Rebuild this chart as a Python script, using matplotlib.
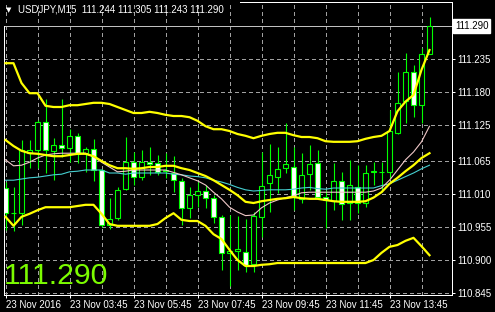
import matplotlib
matplotlib.use('Agg')
import matplotlib.pyplot as plt
from matplotlib.patches import Rectangle
from matplotlib.transforms import blended_transform_factory

# ---------------- data ----------------
title_text = "USDJPY,M15  111.244 111.305 111.243 111.290"
last_price = 111.290
last_price_label = "111.290"

opens = [111.020, 110.978, 110.978, 111.078, 111.083, 111.130, 111.082, 111.092, 111.087, 111.107,
         111.079, 111.085, 111.050, 110.958, 110.970, 111.018, 111.063, 111.038, 111.063, 111.062,
         111.050, 111.045, 111.032, 110.986, 111.008, 111.015, 111.003, 110.972, 110.912, 110.915,
         110.913, 110.893, 110.972, 111.028, 111.039, 111.053, 111.055, 111.001, 111.043, 111.061,
         111.005, 110.999, 111.031, 110.995, 111.022, 110.995, 111.046, 111.047, 111.047, 111.112,
         111.165, 111.213, 111.158, 111.244]
highs = [111.030, 111.022, 111.100, 111.100, 111.133, 111.168, 111.103, 111.168, 111.118, 111.112,
         111.088, 111.102, 111.052, 111.003, 111.022, 111.105, 111.080, 111.083, 111.088, 111.075,
         111.079, 111.073, 111.036, 111.022, 111.030, 111.025, 111.008, 110.975, 110.975, 110.973,
         110.968, 110.980, 111.080, 111.093, 111.088, 111.128, 111.088, 111.078, 111.092, 111.083,
         111.017, 111.061, 111.047, 111.067, 111.058, 111.058, 111.064, 111.064, 111.150, 111.213,
         111.245, 111.225, 111.253, 111.305]
lows = [110.950, 110.948, 110.958, 111.053, 111.053, 111.045, 111.033, 111.072, 111.063, 111.062,
        111.047, 111.032, 110.955, 110.952, 110.967, 111.017, 111.025, 111.033, 111.042, 111.042,
        111.036, 111.014, 110.958, 110.970, 110.989, 110.986, 110.961, 110.883, 110.857, 110.883,
        110.880, 110.880, 110.939, 110.980, 111.012, 111.045, 110.983, 110.995, 111.017, 111.003,
        110.953, 110.983, 110.967, 110.967, 110.978, 110.989, 111.025, 111.014, 111.037, 111.110,
        111.128, 111.139, 111.128, 111.243]
closes = [110.978, 110.979, 111.083, 111.083, 111.130, 111.083, 111.092, 111.086, 111.107, 111.077,
          111.085, 111.050, 110.958, 110.968, 111.017, 111.063, 111.039, 111.063, 111.060, 111.047,
          111.048, 111.033, 110.986, 111.008, 111.015, 111.003, 110.972, 110.912, 110.915, 110.918,
          110.892, 110.973, 111.024, 111.042, 111.051, 111.060, 111.005, 111.041, 111.060, 111.005,
          111.000, 111.031, 110.994, 111.025, 110.995, 111.045, 111.048, 111.047, 111.115, 111.162,
          111.213, 111.158, 111.244, 111.290]

bb_upper = [111.228, 111.228, 111.195, 111.178, 111.178, 111.157, 111.155, 111.155, 111.158, 111.158,
            111.160, 111.162, 111.162, 111.160, 111.155, 111.150, 111.145, 111.145, 111.147, 111.145,
            111.142, 111.140, 111.140, 111.138, 111.132, 111.123, 111.118, 111.118, 111.115, 111.110,
            111.107, 111.103, 111.107, 111.110, 111.112, 111.112, 111.108, 111.105, 111.105, 111.103,
            111.098, 111.097, 111.097, 111.097, 111.098, 111.102, 111.105, 111.107, 111.115, 111.148,
            111.164, 111.175, 111.217, 111.250]
bb_middle = [111.100, 111.090, 111.082, 111.078, 111.077, 111.075, 111.073, 111.073, 111.075, 111.077,
             111.077, 111.073, 111.065, 111.058, 111.053, 111.053, 111.052, 111.053, 111.055, 111.055,
             111.057, 111.057, 111.053, 111.050, 111.045, 111.040, 111.033, 111.025, 111.017, 111.008,
             110.997, 110.995, 110.998, 111.000, 111.002, 111.003, 111.005, 111.003, 111.002, 111.002,
             111.000, 110.998, 110.997, 110.997, 110.997, 110.998, 111.004, 111.013, 111.027, 111.037,
             111.048, 111.058, 111.070, 111.078]
bb_lower = [110.972, 110.957, 110.972, 110.977, 110.983, 110.988, 110.988, 110.988, 110.988, 110.990,
            110.992, 110.992, 110.977, 110.960, 110.957, 110.957, 110.957, 110.957, 110.957, 110.960,
            110.970, 110.978, 110.967, 110.965, 110.965, 110.957, 110.943, 110.935, 110.917, 110.900,
            110.890, 110.890, 110.892, 110.893, 110.895, 110.895, 110.895, 110.895, 110.895, 110.895,
            110.895, 110.895, 110.895, 110.895, 110.895, 110.895, 110.900, 110.912, 110.922, 110.925,
            110.932, 110.937, 110.923, 110.908]
ma_fast = [111.067, 111.057, 111.058, 111.063, 111.070, 111.075, 111.077, 111.078, 111.078, 111.078,
           111.078, 111.072, 111.063, 111.055, 111.047, 111.048, 111.050, 111.050, 111.050, 111.050,
           111.050, 111.046, 111.042, 111.037, 111.032, 111.025, 111.013, 111.002, 110.988, 110.980,
           110.974, 110.975, 110.987, 110.995, 111.000, 111.004, 111.007, 111.012, 111.013, 111.013,
           111.013, 111.013, 111.013, 111.013, 111.013, 111.013, 111.015, 111.020, 111.033, 111.050,
           111.067, 111.080, 111.097, 111.123]
ma_slow = [111.033, 111.033, 111.035, 111.037, 111.038, 111.040, 111.042, 111.043, 111.047, 111.048,
           111.050, 111.050, 111.050, 111.045, 111.045, 111.043, 111.045, 111.045, 111.045, 111.045,
           111.045, 111.043, 111.042, 111.040, 111.039, 111.037, 111.033, 111.030, 111.026, 111.021,
           111.017, 111.015, 111.016, 111.017, 111.017, 111.017, 111.018, 111.020, 111.021, 111.019,
           111.018, 111.020, 111.020, 111.020, 111.020, 111.020, 111.020, 111.024, 111.027, 111.033,
           111.039, 111.045, 111.052, 111.058]

x_tick_bars = [0, 8, 16, 24, 32, 40, 48]
x_tick_labels = ["23 Nov 2016", "23 Nov 03:45", "23 Nov 05:45", "23 Nov 07:45",
                 "23 Nov 09:45", "23 Nov 11:45", "23 Nov 13:45"]
x_grid_bars = [4, 12, 20, 28, 36, 44, 52]
y_tick_values = [110.845, 110.900, 110.955, 111.010, 111.065, 111.125, 111.180, 111.235]
y_tick_labels = ["110.845", "110.900", "110.955", "111.010", "111.065", "111.125", "111.180", "111.235"]

# ---------------- figure ----------------
W, H = 495, 312
FONT = 'Liberation Sans'
PX = 0.72  # one pixel in points at 100 dpi
fig = plt.figure(figsize=(W / 100, H / 100), dpi=100, facecolor='black')
ax = fig.add_axes([4 / W, 1 - 295 / H, 448 / W, 293 / H])
ax.set_facecolor('black')

n = len(opens)
bars = list(range(n))
ax.set_xlim(-0.1875, 55.8125)   # bar centres land on pixel centres
ax.set_ylim(110.8417, 111.330)

# grid
grid_kw = dict(color='#a0a0a0', linewidth=PX, linestyle=(0, (4, 3)), antialiased=False)
ax.set_xticks(x_tick_bars)
ax.set_xticklabels(x_tick_labels)
ax.set_xticks(x_grid_bars, minor=True)
ax.set_yticks(y_tick_values)
ax.set_yticklabels(y_tick_labels)
ax.grid(True, which='both', axis='x', **grid_kw)
ax.grid(True, which='major', axis='y', **grid_kw)
ax.set_axisbelow(True)

ax.yaxis.tick_right()
ax.tick_params(axis='both', which='major', colors='white', labelcolor='white',
               labelsize=7, length=2.2, width=PX, pad=1.5)
ax.tick_params(axis='x', which='minor', length=0)
for lab in ax.get_xticklabels():
    lab.set_horizontalalignment('left')
    lab.set_fontfamily(FONT)
for lab in ax.get_yticklabels():
    lab.set_fontfamily(FONT)

# spines
for s in ['bottom', 'right', 'left']:
    ax.spines[s].set_color('white')
    ax.spines[s].set_linewidth(PX)
ax.spines['top'].set_visible(False)
ax.spines['left'].set_bounds(110.8417, last_price)
ax.plot([0.527, 1.0], [1.0, 1.0], transform=ax.transAxes, color='white',
        linewidth=PX, clip_on=False, zorder=5, antialiased=False)

# bid line
ax.axhline(last_price, color='#c0c0c0', linewidth=PX, zorder=1, antialiased=False)

# candles
body_w = 0.6
lime = '#00ff00'
for i in bars:
    o, h, l, c = opens[i], highs[i], lows[i], closes[i]
    ax.plot([i, i], [l, h], color=lime, linewidth=0.8, zorder=2, solid_capstyle='butt')
    bottom = min(o, c)
    height = abs(c - o)
    face = 'white' if c < o else 'black'
    ax.add_patch(Rectangle((i - body_w / 2, bottom), body_w, height,
                           facecolor=face, edgecolor=lime, linewidth=0.8, zorder=2.5))

# indicators
ax.plot(bars, ma_slow, color='#45cfd0', linewidth=0.8, zorder=3)
ax.plot(bars, ma_fast, color='#f0c8c8', linewidth=0.8, zorder=3)
for band in (bb_upper, bb_middle, bb_lower):
    ax.plot(bars, band, color='#ffff00', linewidth=1.6, zorder=3.5)

# price label on the right
tr = blended_transform_factory(ax.transAxes, ax.transData)
ax.text(1.0 + 3 / 448, last_price, last_price_label, transform=tr, ha='left', va='center',
        fontsize=7, family=FONT, color='black', zorder=6,
        bbox=dict(boxstyle='square,pad=0.2', facecolor='white', edgecolor='white'))

# title
fig.text(6 / W, 1 - 10.5 / H, '\u25BC', color='white', fontsize=5, family='DejaVu Sans',
         ha='left', va='center')
fig.text(18 / W, 1 - 10 / H, title_text, color='white', fontsize=7, family=FONT,
         ha='left', va='center')

# big price text
fig.text(4 / W, 1 - 284.5 / H, last_price_label, color='#7CFC00', fontsize=21.8,
         family=FONT, ha='left', va='baseline')

fig.savefig('out.png', dpi=100, facecolor='black')
